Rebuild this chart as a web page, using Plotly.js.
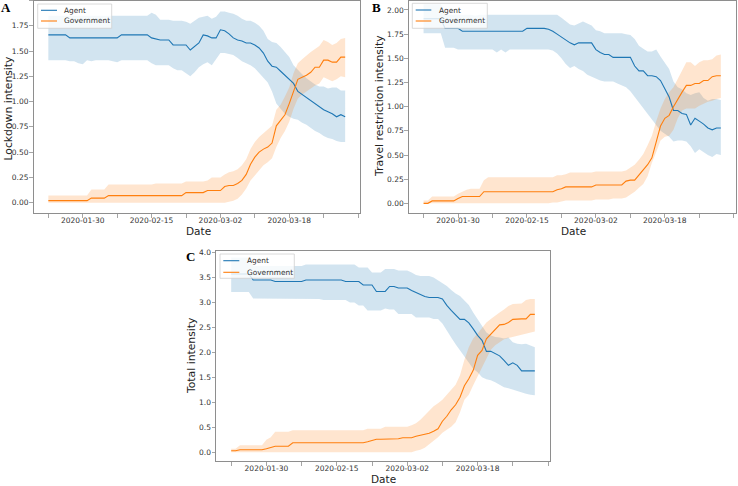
<!DOCTYPE html>
<html>
<head>
<meta charset="utf-8">
<script src="https://cdn.plot.ly/plotly-3.0.1.min.js"></script>
<style>html,body{margin:0;padding:0;background:#fff;}#chart{width:738px;height:486px;}</style>
</head>
<body>
<div id="chart"></div>
<script>
// ---------- Data (daily values, 2020-01-22 .. 2020-03-31) ----------
const startDate = '2020-01-22';

const agentA = [
1.66,1.66,1.66,1.66,1.66,1.63,1.63,1.63,1.63,1.63,
1.63,1.63,1.63,1.63,1.63,1.63,1.63,1.66,1.66,1.66,
1.66,1.66,1.66,1.66,1.63,1.62,1.61,1.61,1.61,1.56,
1.56,1.56,1.56,1.51,1.55,1.58,1.66,1.65,1.63,1.63,
1.71,1.70,1.67,1.63,1.61,1.60,1.58,1.58,1.56,1.53,
1.48,1.40,1.35,1.34,1.30,1.26,1.21,1.18,1.10,1.07,
1.04,1.01,0.98,0.95,0.92,0.90,0.88,0.85,0.87,0.85];
const agentAHi = [
1.85,1.85,1.85,1.85,1.85,1.85,1.85,1.85,1.85,1.85,
1.85,1.85,1.85,1.85,1.85,1.85,1.85,1.85,1.85,1.85,
1.85,1.85,1.85,1.85,1.88,1.86,1.81,1.81,1.81,1.80,
1.80,1.80,1.79,1.77,1.80,1.83,1.84,1.85,1.82,1.84,
1.89,1.89,1.88,1.87,1.85,1.82,1.80,1.80,1.78,1.75,
1.70,1.62,1.59,1.58,1.54,1.49,1.44,1.36,1.31,1.27,
1.23,1.20,1.17,1.15,1.15,1.13,1.14,1.14,1.11,1.11];
const agentALo = [
1.41,1.41,1.41,1.41,1.41,1.40,1.40,1.38,1.37,1.41,
1.40,1.41,1.41,1.41,1.41,1.40,1.39,1.41,1.41,1.41,
1.41,1.41,1.41,1.41,1.38,1.36,1.36,1.36,1.36,1.33,
1.31,1.31,1.28,1.25,1.29,1.34,1.37,1.39,1.36,1.42,
1.48,1.48,1.47,1.46,1.43,1.40,1.38,1.36,1.33,1.28,
1.24,1.19,1.10,0.98,0.93,0.88,0.85,0.83,0.82,0.79,
0.77,0.74,0.71,0.69,0.66,0.64,0.63,0.61,0.60,0.60];
const govA = [
0.02,0.02,0.02,0.02,0.02,0.02,0.02,0.02,0.02,0.02,
0.045,0.045,0.045,0.045,0.07,0.07,0.07,0.07,0.07,0.07,
0.07,0.07,0.07,0.07,0.07,0.07,0.07,0.07,0.07,0.07,
0.07,0.07,0.10,0.10,0.10,0.10,0.10,0.12,0.12,0.12,
0.12,0.16,0.17,0.17,0.19,0.22,0.28,0.38,0.45,0.50,
0.53,0.55,0.59,0.76,0.81,0.87,0.98,1.10,1.22,1.24,
1.26,1.29,1.34,1.34,1.41,1.41,1.39,1.39,1.44,1.44];
const govAHi = [
0.07,0.07,0.07,0.07,0.07,0.07,0.07,0.07,0.07,0.07,
0.13,0.13,0.13,0.13,0.18,0.18,0.18,0.18,0.18,0.18,
0.18,0.18,0.18,0.18,0.18,0.19,0.19,0.19,0.19,0.19,
0.19,0.19,0.21,0.21,0.21,0.21,0.21,0.22,0.25,0.25,
0.25,0.28,0.30,0.31,0.33,0.37,0.43,0.53,0.60,0.65,
0.69,0.72,0.76,0.92,0.97,1.05,1.14,1.28,1.38,1.42,
1.46,1.49,1.52,1.55,1.61,1.59,1.56,1.58,1.62,1.63];
const govALo = [
0,0,0,0,0,0,0,0,0,0,
0,0,0,0,0,0,0,0,0,0,
0,0,0,0,0,0,0,0,0,0,
0,0,0,0,0,0,0,0,0,0,
0.00,0.00,0.01,0.02,0.04,0.08,0.14,0.22,0.27,0.32,
0.37,0.40,0.44,0.55,0.64,0.71,0.80,0.93,1.03,1.07,
1.10,1.13,1.16,1.18,1.24,1.22,1.20,1.22,1.25,1.24];

const agentB = [
1.91,1.91,1.91,1.91,1.91,1.81,1.81,1.81,1.81,1.78,
1.78,1.78,1.78,1.78,1.78,1.78,1.78,1.78,1.78,1.78,
1.78,1.78,1.78,1.78,1.81,1.81,1.81,1.81,1.81,1.80,
1.78,1.75,1.72,1.69,1.66,1.64,1.66,1.66,1.66,1.66,
1.59,1.56,1.54,1.54,1.51,1.51,1.51,1.51,1.51,1.42,
1.37,1.37,1.32,1.32,1.31,1.27,1.19,1.10,0.96,0.96,
0.93,0.92,0.81,0.88,0.85,0.82,0.78,0.76,0.78,0.78];
const agentBHi = [
2.06,2.06,2.06,2.06,2.06,1.95,1.95,1.95,1.95,1.95,
1.95,1.95,1.94,1.95,1.95,1.95,1.95,1.95,1.95,1.95,
1.95,1.95,1.95,1.95,1.95,1.95,1.95,1.95,1.95,1.95,
1.95,1.95,1.92,1.88,1.85,1.84,1.86,1.88,1.86,1.84,
1.79,1.78,1.76,1.76,1.76,1.76,1.76,1.75,1.74,1.70,
1.63,1.60,1.57,1.57,1.59,1.52,1.45,1.39,1.26,1.20,
1.18,1.14,1.12,1.14,1.15,1.09,1.06,1.08,1.08,1.07];
const agentBLo = [
1.76,1.76,1.76,1.76,1.76,1.61,1.61,1.61,1.59,1.59,
1.59,1.59,1.59,1.59,1.59,1.59,1.59,1.56,1.59,1.56,
1.59,1.59,1.59,1.59,1.59,1.59,1.59,1.59,1.59,1.59,
1.58,1.55,1.50,1.44,1.40,1.42,1.39,1.37,1.33,1.31,
1.29,1.27,1.26,1.26,1.26,1.24,1.22,1.20,1.16,1.10,
1.05,0.98,0.93,0.86,0.80,0.75,0.72,0.69,0.64,0.65,
0.65,0.64,0.59,0.52,0.56,0.53,0.50,0.48,0.51,0.50];
const govB = [
0.00,0.00,0.025,0.025,0.025,0.025,0.025,0.025,0.05,0.07,
0.07,0.07,0.07,0.07,0.12,0.12,0.12,0.12,0.12,0.12,
0.12,0.12,0.12,0.12,0.12,0.12,0.12,0.12,0.12,0.12,
0.12,0.14,0.15,0.17,0.17,0.17,0.17,0.17,0.17,0.17,
0.19,0.19,0.19,0.19,0.19,0.19,0.19,0.23,0.24,0.24,
0.29,0.34,0.40,0.47,0.65,0.80,0.88,0.91,1.00,1.08,
1.15,1.22,1.22,1.24,1.24,1.27,1.27,1.31,1.32,1.32];
const govBHi = [
0.03,0.03,0.07,0.07,0.07,0.07,0.07,0.07,0.10,0.12,
0.14,0.15,0.15,0.15,0.24,0.27,0.27,0.27,0.27,0.27,
0.27,0.27,0.27,0.27,0.27,0.27,0.27,0.27,0.27,0.27,
0.27,0.29,0.29,0.30,0.32,0.32,0.32,0.32,0.32,0.32,
0.33,0.33,0.33,0.33,0.33,0.33,0.33,0.34,0.37,0.40,
0.45,0.51,0.60,0.70,0.85,0.98,1.08,1.15,1.20,1.29,
1.38,1.46,1.46,1.42,1.46,1.48,1.48,1.49,1.53,1.54];
const govBLo = [
0,0,0,0,0,0,0,0,0,0,
0,0,0,0,0,0,0,0,0,0,
0,0,0,0,0,0,0,0,0,0,
0.01,0.01,0.02,0.03,0.03,0.03,0.03,0.03,0.03,0.03,
0.04,0.04,0.04,0.04,0.05,0.05,0.05,0.06,0.09,0.12,
0.16,0.20,0.28,0.42,0.53,0.65,0.69,0.70,0.76,0.88,
0.96,0.98,0.98,0.98,1.01,1.03,1.05,1.06,1.08,1.09];

const agentC = [
3.57,3.57,3.57,3.57,3.57,3.45,3.45,3.45,3.45,3.45,
3.42,3.42,3.42,3.42,3.42,3.42,3.42,3.45,3.45,3.45,
3.45,3.45,3.45,3.45,3.45,3.45,3.42,3.42,3.42,3.42,
3.35,3.35,3.35,3.22,3.22,3.22,3.32,3.32,3.29,3.29,
3.29,3.24,3.20,3.16,3.12,3.10,3.10,3.10,3.07,2.94,
2.84,2.74,2.66,2.66,2.59,2.47,2.34,2.24,2.02,2.02,
1.97,1.93,1.84,1.74,1.79,1.74,1.63,1.63,1.63,1.63];
const agentCHi = [
3.90,3.90,3.90,3.90,3.90,3.73,3.73,3.73,3.73,3.73,
3.73,3.73,3.73,3.73,3.73,3.73,3.73,3.76,3.76,3.76,
3.76,3.76,3.76,3.76,3.76,3.76,3.76,3.76,3.76,3.70,
3.70,3.70,3.60,3.60,3.60,3.67,3.67,3.67,3.64,3.64,
3.64,3.60,3.55,3.53,3.53,3.53,3.50,3.44,3.38,3.33,
3.25,3.18,3.13,3.05,2.95,2.80,2.66,2.52,2.40,2.34,
2.31,2.30,2.28,2.30,2.20,2.17,2.16,2.17,2.13,2.10];
const agentCLo = [
3.21,3.21,3.21,3.21,3.21,3.08,3.08,3.08,3.08,3.08,
3.07,3.07,3.07,3.07,3.07,3.07,3.07,3.07,3.07,3.07,
3.07,3.05,3.05,3.05,3.05,3.05,3.05,3.00,3.00,2.94,
2.94,2.84,2.84,2.84,2.84,2.88,2.86,2.86,2.77,2.77,
2.77,2.77,2.70,2.70,2.70,2.70,2.67,2.67,2.58,2.45,
2.30,2.16,2.04,1.92,1.80,1.67,1.60,1.50,1.46,1.44,
1.40,1.35,1.30,1.28,1.25,1.22,1.20,1.17,1.15,1.14];
const govC = [
0.03,0.03,0.05,0.05,0.05,0.05,0.05,0.05,0.07,0.10,
0.12,0.12,0.12,0.12,0.19,0.19,0.19,0.19,0.19,0.19,
0.19,0.19,0.19,0.19,0.19,0.19,0.19,0.19,0.19,0.19,
0.19,0.21,0.23,0.26,0.26,0.26,0.26,0.26,0.27,0.29,
0.29,0.29,0.32,0.34,0.36,0.38,0.42,0.47,0.62,0.72,
0.85,0.95,1.10,1.33,1.47,1.64,1.94,2.04,2.27,2.36,
2.47,2.55,2.56,2.60,2.66,2.67,2.67,2.67,2.76,2.76];
const govCHi = [
0.07,0.07,0.14,0.14,0.14,0.14,0.14,0.14,0.25,0.30,
0.41,0.41,0.41,0.41,0.44,0.44,0.44,0.44,0.44,0.44,
0.44,0.44,0.44,0.44,0.44,0.44,0.44,0.44,0.44,0.44,
0.44,0.47,0.47,0.47,0.47,0.51,0.51,0.51,0.51,0.51,
0.51,0.54,0.58,0.65,0.74,0.84,0.92,0.98,1.05,1.15,
1.24,1.35,1.54,1.85,2.10,2.28,2.38,2.50,2.60,2.67,
2.74,2.80,2.86,2.93,2.97,2.97,2.98,3.05,3.07,3.07];
const govCLo = [
0,0,0,0,0,0,0,0,0,0,
0,0,0,0,0,0,0,0,0,0,
0,0,0,0,0,0,0,0,0,0,
0,0,0,0,0,0,0,0,0,0,
0.00,0.00,0.03,0.05,0.09,0.16,0.22,0.30,0.39,0.45,
0.51,0.60,0.80,1.05,1.15,1.34,1.52,1.70,1.89,2.05,
2.14,2.20,2.26,2.29,2.31,2.34,2.36,2.38,2.40,2.42];

const tickDates = ['2020-01-22','2020-01-30','2020-02-07','2020-02-15','2020-02-23',
                   '2020-03-02','2020-03-10','2020-03-18','2020-03-26','2020-04-03'];
const tickLabels = ['','2020-01-30','','2020-02-15','','2020-03-02','','2020-03-18','',''];
const seriesNames = ['Agent','Government'];
const yTitles = ['Lockdown intensity','Travel restriction intensity','Total intensity'];
const panelLetters = ['A','B','C'];

// ---------- Build ----------
function makeDates(n){
  const t0 = Date.parse(startDate + 'T00:00:00Z');
  const out = [];
  for (let i = 0; i < n; i++) out.push(new Date(t0 + i*86400000).toISOString().slice(0,10));
  return out;
}
const dates = makeDates(agentA.length);

const W = 738, H = 486;
const px = x => x / W;
const py = y => 1 - y / H;

const BLUE = '#1f77b4', ORANGE = '#ff7f0e';
const BLUE_F = 'rgba(31,119,180,0.2)', ORANGE_F = 'rgba(255,127,14,0.2)';

const panels = [
  {ax:'', agent:agentA, aHi:agentAHi, aLo:agentALo, gov:govA, gHi:govAHi, gLo:govALo},
  {ax:'2', agent:agentB, aHi:agentBHi, aLo:agentBLo, gov:govB, gHi:govBHi, gLo:govBLo},
  {ax:'3', agent:agentC, aHi:agentCHi, aLo:agentCLo, gov:govC, gHi:govCHi, gLo:govCLo}
];

const traces = [];
panels.forEach(p => {
  const xa = 'x' + p.ax, ya = 'y' + p.ax;
  const base = {x: dates, xaxis: xa, yaxis: ya, mode: 'lines', showlegend: false, hoverinfo: 'skip'};
  traces.push(Object.assign({}, base, {y: p.aLo, line: {width: 0, color: BLUE}}));
  traces.push(Object.assign({}, base, {y: p.aHi, line: {width: 0, color: BLUE}, fill: 'tonexty', fillcolor: BLUE_F}));
  traces.push(Object.assign({}, base, {y: p.gLo, line: {width: 0, color: ORANGE}}));
  traces.push(Object.assign({}, base, {y: p.gHi, line: {width: 0, color: ORANGE}, fill: 'tonexty', fillcolor: ORANGE_F}));
  traces.push(Object.assign({}, base, {y: p.agent, name: seriesNames[0], line: {width: 1.1, color: BLUE}}));
  traces.push(Object.assign({}, base, {y: p.gov, name: seriesNames[1], line: {width: 1.1, color: ORANGE}}));
});

const FONT = 'DejaVu Sans, sans-serif';
const FRAME = '#8e8e8e';
function xAxis(domain, anchor){
  return {domain, anchor, type: 'date', range: ['2020-01-18 13:12', '2020-04-03 10:48'],
    tickmode: 'array', tickvals: tickDates, ticktext: tickLabels,
    ticks: 'outside', ticklen: 3.5, tickwidth: 0.8, tickcolor: FRAME, ticklabelstandoff: -4,
    showline: true, mirror: true, linecolor: FRAME, linewidth: 1,
    showgrid: false, zeroline: false,
    tickfont: {family: FONT, size: 7.5, color: '#333'}};
}
function yAxis(domain, anchor, range, dtick, fmt){
  return {domain, anchor, range, tick0: 0, dtick, tickformat: fmt,
    ticks: 'outside', ticklen: 3.5, tickwidth: 0.8, tickcolor: FRAME, ticklabelstandoff: -1,
    showline: true, mirror: true, linecolor: FRAME, linewidth: 1,
    showgrid: false, zeroline: false,
    tickfont: {family: FONT, size: 7.5, color: '#333'}};
}

const layout = {
  width: W, height: H,
  margin: {l: 0, r: 0, t: 0, b: 0},
  paper_bgcolor: '#fff', plot_bgcolor: '#fff',
  showlegend: false,
  xaxis:  xAxis([px(33.5), px(360)], 'y'),
  yaxis:  yAxis([py(213.3), py(0.5)], 'x', [-0.105, 2.0], 0.25, '.2f'),
  xaxis2: xAxis([px(408.7), px(735.7)], 'y2'),
  yaxis2: yAxis([py(213.3), py(0.7)], 'x2', [-0.103, 2.096], 0.25, '.2f'),
  xaxis3: xAxis([px(216), px(550)], 'y3'),
  yaxis3: yAxis([py(461.2), py(251)], 'x3', [-0.18, 4.03], 0.5, '.1f'),
  shapes: [],
  annotations: []
};

// Axis titles
const yTitlePos = [[7.5, 108], [379, 106], [191, 356]];
const xTitlePos = [[198, 231], [573, 231], [383, 478.5]];
yTitles.forEach((t, i) => {
  layout.annotations.push({text: t, xref: 'paper', yref: 'paper', x: px(yTitlePos[i][0]), y: py(yTitlePos[i][1]),
    xanchor: 'center', yanchor: 'middle', textangle: -90, showarrow: false,
    font: {family: FONT, size: 10.8, color: '#222'}});
  layout.annotations.push({text: 'Date', xref: 'paper', yref: 'paper', x: px(xTitlePos[i][0]), y: py(xTitlePos[i][1]),
    xanchor: 'center', yanchor: 'middle', showarrow: false, borderpad: 0,
    font: {family: FONT, size: 10.5, color: '#222'}});
});

// Panel letters
const letterPos = [[5.5, 7.8], [377, 7.8], [190, 256.5]];
panelLetters.forEach((L, i) => {
  layout.annotations.push({text: '<b>' + L + '</b>', xref: 'paper', yref: 'paper',
    x: px(letterPos[i][0]), y: py(letterPos[i][1]), xanchor: 'center', yanchor: 'middle', showarrow: false,
    font: {family: 'Liberation Serif, serif', size: 13, color: '#000'}});
});

// Legends (one per panel)
const legends = [
  {box: [37.7, 4, 111.7, 28.3], lx: [41, 57], ly: [10.3, 21], tx: 61.7},
  {box: [412.3, 3.3, 487.3, 28.3], lx: [415.7, 431.3], ly: [10, 21], tx: 436.7},
  {box: [220, 254, 294.3, 278.3], lx: [223.3, 239.3], ly: [260.7, 272.3], tx: 245}
];
legends.forEach(lg => {
  layout.shapes.push({type: 'rect', xref: 'paper', yref: 'paper', layer: 'above',
    x0: px(lg.box[0]), y0: py(lg.box[1]), x1: px(lg.box[2]), y1: py(lg.box[3]),
    line: {color: '#d0d0d0', width: 0.8}, fillcolor: 'rgba(255,255,255,0.8)'});
  [BLUE, ORANGE].forEach((c, k) => {
    layout.shapes.push({type: 'line', xref: 'paper', yref: 'paper', layer: 'above',
      x0: px(lg.lx[0]), x1: px(lg.lx[1]), y0: py(lg.ly[k]), y1: py(lg.ly[k]),
      line: {color: c, width: 1.1}});
    layout.annotations.push({text: seriesNames[k], xref: 'paper', yref: 'paper',
      x: px(lg.tx), y: py(lg.ly[k]), xanchor: 'left', yanchor: 'middle', showarrow: false,
      font: {family: FONT, size: 7.4, color: '#333'}});
  });
});

Plotly.newPlot('chart', traces, layout, {displayModeBar: false, staticPlot: true});
</script>
</body>
</html>
